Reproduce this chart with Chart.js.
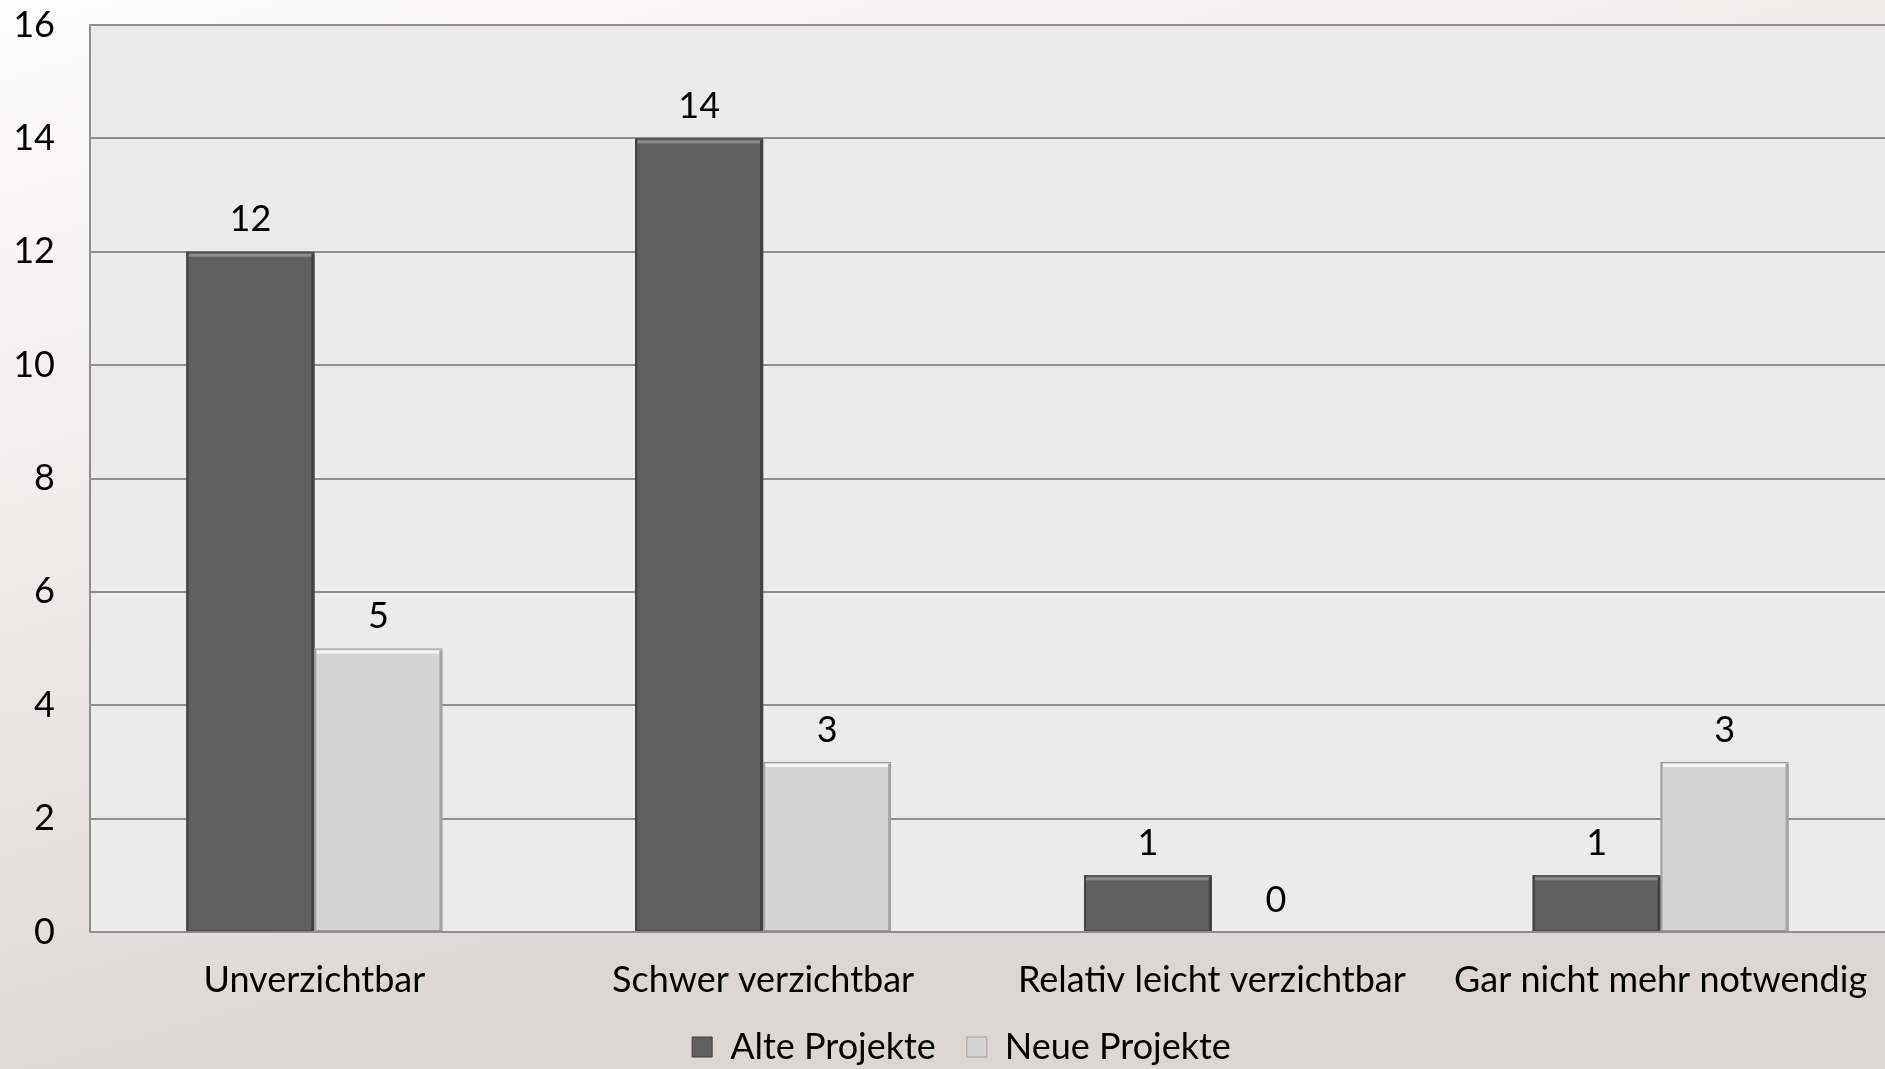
<!DOCTYPE html>
<html>
<head>
<meta charset="utf-8">
<script src="https://cdn.jsdelivr.net/npm/chart.js@4.4.1/dist/chart.umd.min.js"></script>
<style>
  html, body { margin: 0; padding: 0; background: #f2eeee; }
  #wrap { width: 1885px; height: 1069px; position: relative; }
  canvas { display: block; }
</style>
</head>
<body>
<div id="wrap"><canvas id="c" width="1885" height="1069"></canvas></div>
<script>
// Kategorien und Werte
const categories = ['Unverzichtbar', 'Schwer verzichtbar', 'Relativ leicht verzichtbar', 'Gar nicht mehr notwendig'];
const alteProjekte = [12, 14, 1, 1];
const neueProjekte = [5, 3, 0, 3];
const seriesNames = ['Alte Projekte', 'Neue Projekte'];
const yTicks = [0, 2, 4, 6, 8, 10, 12, 14, 16];

const FONT = 'Lato, "Open Sans", "DejaVu Sans", sans-serif';
const FSIZE = 36;

// Hintergrund der Seite und der Zeichenfläche
const backdrop = {
  id: 'backdrop',
  afterLayout(chart) {
    // Legende etwas nach rechts rücken
    if (chart.legend) { chart.legend.left += 19; chart.legend.right += 19; }
  },
  beforeDraw(chart) {
    const { ctx, width, height, chartArea } = chart;
    ctx.save();
    const g = ctx.createLinearGradient(0, 0, 300, height);
    g.addColorStop(0, '#fdfcfe');
    g.addColorStop(0.45, '#f1eded');
    g.addColorStop(1, '#ddd6d4');
    ctx.fillStyle = g;
    ctx.fillRect(0, 0, width, height);
    ctx.fillStyle = '#ebebeb';
    ctx.fillRect(chartArea.left, chartArea.top, chartArea.right - chartArea.left, chartArea.bottom - chartArea.top);
    ctx.restore();
  }
};

// Abgeschrägte Kanten der Balken und Wertebeschriftung
const bevelAndLabels = {
  id: 'bevelAndLabels',
  afterDatasetsDraw(chart) {
    const { ctx } = chart;
    ctx.save();
    chart.data.datasets.forEach((ds, di) => {
      const meta = chart.getDatasetMeta(di);
      meta.data.forEach((bar, i) => {
        const v = ds.data[i];
        const l = bar.x - bar.width / 2, r = bar.x + bar.width / 2;
        const t = bar.y, b = bar.base;
        if (b - t > 2) {
          const hi = di === 0 ? '#8c8c8c' : '#f6f6f6';
          const sh = di === 0 ? '#3e3e3e' : '#a8a8a8';
          ctx.fillStyle = hi;
          ctx.fillRect(l + 2, t + 2, r - l - 4, 3);
          ctx.fillStyle = sh;
          ctx.fillRect(r - 3, t + 2, 3, b - t - 2);
          ctx.fillRect(l, t, 2, b - t);
          ctx.strokeStyle = di === 0 ? '#4a4a4a' : '#9c9c9c';
          ctx.lineWidth = 1;
          ctx.strokeRect(l + 0.5, t + 0.5, r - l - 1, b - t - 1);
        }
        ctx.fillStyle = '#000';
        ctx.font = FSIZE + 'px ' + FONT;
        ctx.textAlign = 'center';
        ctx.textBaseline = 'middle';
        ctx.fillText(String(v), bar.x, t - 32);
      });
    });
    ctx.restore();
  }
};

new Chart(document.getElementById('c'), {
  type: 'bar',
  data: {
    labels: categories,
    datasets: [
      { label: seriesNames[0], data: alteProjekte, backgroundColor: '#606060', borderWidth: 0 },
      { label: seriesNames[1], data: neueProjekte, backgroundColor: '#d4d4d4', borderWidth: 0 }
    ]
  },
  options: {
    responsive: false,
    animation: false,
    layout: { padding: { top: 25, right: 0, left: 0, bottom: 0 } },
    datasets: { bar: { categoryPercentage: 0.57, barPercentage: 1.0 } },
    scales: {
      x: {
        afterFit(scale) { scale.height = 66; scale.paddingLeft = 0; scale.paddingRight = 0; },
        grid: { display: false, drawTicks: false },
        border: { display: true, color: '#8f8f8f', width: 2 },
        ticks: { color: '#000', font: { family: FONT, size: FSIZE, lineHeight: 1 }, padding: 30, maxRotation: 0, autoSkip: false }
      },
      y: {
        min: 0, max: 16,
        afterFit(scale) { scale.width = 90; scale.paddingTop = 0; scale.paddingBottom = 0; },
        afterBuildTicks(scale) { scale.ticks = yTicks.map(v => ({ value: v })); },
        grid: { color: '#8f8f8f', lineWidth: 2, drawTicks: false },
        border: { display: true, color: '#8f8f8f', width: 2 },
        ticks: { color: '#000', font: { family: FONT, size: FSIZE }, padding: 35 }
      }
    },
    plugins: {
      legend: {
        position: 'bottom',
        maxHeight: 71,
        labels: {
          color: '#000',
          font: { family: FONT, size: FSIZE },
          boxWidth: 20, boxHeight: 20, padding: 31,
          generateLabels(chart) {
            return chart.data.datasets.map((ds, i) => ({
              text: ds.label,
              fillStyle: ds.backgroundColor,
              strokeStyle: i === 0 ? '#3e3e3e' : '#a0a0a0',
              lineWidth: 1,
              datasetIndex: i
            }));
          }
        }
      },
      tooltip: { enabled: false }
    }
  },
  plugins: [backdrop, bevelAndLabels]
});
</script>
</body>
</html>
